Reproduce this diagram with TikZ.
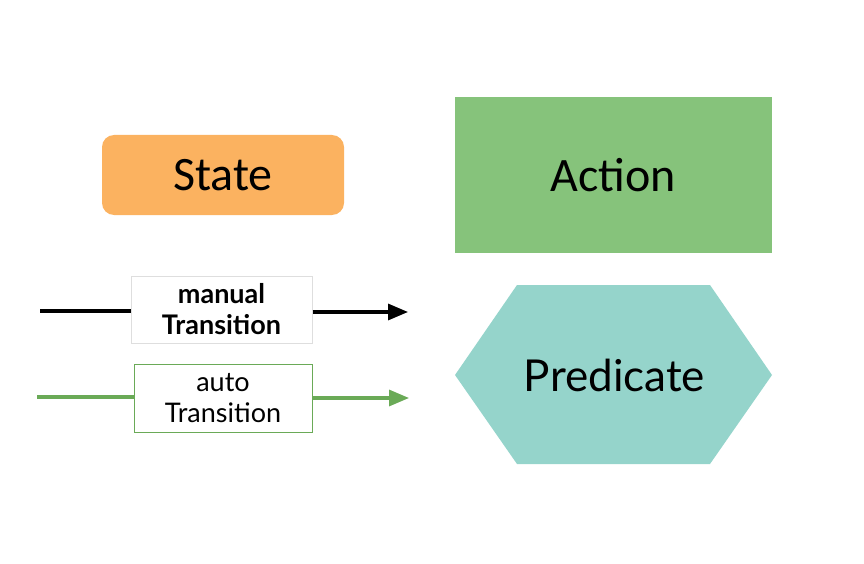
\documentclass[tikz,border=0pt]{standalone}
\usepackage{fontspec}
\setmainfont{Lato}
\newfontfamily\calib{Carlito}
\usetikzlibrary{arrows.meta}
\definecolor{stateorange}{RGB}{251,178,96}
\definecolor{actiongreen}{RGB}{134,195,123}
\definecolor{predteal}{RGB}{149,212,203}
\definecolor{autogreen}{RGB}{106,170,87}
\definecolor{lightborder}{RGB}{222,222,222}
\tikzset{
  statebox/.style={draw=none, fill=stateorange, rounded corners=12pt, minimum width=242pt, minimum height=80pt, font=\calib\fontsize{48}{52}\selectfont, inner sep=0pt},
  actionbox/.style={draw=none, fill=actiongreen, minimum width=317pt, minimum height=156pt, font=\calib\fontsize{48}{52}\selectfont, inner sep=0pt},
  transbox/.style={fill=white, line width=1pt, inner sep=0pt, align=center, font=\fontsize{27}{31}\selectfont},
  conn/.style={line width=3.2pt},
  tip/.style={-{Triangle[length=20pt,width=16pt]}}
}
\begin{document}
\begin{tikzpicture}[x=1pt,y=-1pt]
\useasboundingbox (0,0) rectangle (864,564);
% State and Action
\node[statebox] (state) at (223,175) {State};
\node[actionbox] (action) at (613.5,175) {Action};
% Predicate hexagon
\coordinate (p1) at (455,375);
\coordinate (p2) at (517,285);
\coordinate (p3) at (710,285);
\coordinate (p4) at (772,375);
\coordinate (p5) at (710,464);
\coordinate (p6) at (517,464);
\fill[predteal] (p1) -- (p2) -- (p3) -- (p4) -- (p5) -- (p6) -- cycle;
\node[font=\fontsize{44}{48}\selectfont, inner sep=0pt] (pred) at (614.5,375) {Predicate};
% manual transition
\node[transbox, draw=lightborder, minimum width=181pt, minimum height=67pt, font=\bfseries\fontsize{27}{31}\selectfont] (mbox) at (221.5,309.5) {manual\\Transition};
\coordinate (m0) at (40,311);
\coordinate (m1) at (408,312);
\draw[conn, black] (m0) -- (mbox.west |- m0);
\draw[conn, black, tip] (mbox.east |- m1) -- (m1);
% auto transition
\node[transbox, draw=autogreen, minimum width=178pt, minimum height=68pt] (abox) at (223,398) {auto\\Transition};
\coordinate (a0) at (37,397);
\coordinate (a1) at (409,398);
\draw[conn, autogreen] (a0) -- (abox.west |- a0);
\draw[conn, autogreen, tip] (abox.east |- a1) -- (a1);
\end{tikzpicture}
\end{document}
